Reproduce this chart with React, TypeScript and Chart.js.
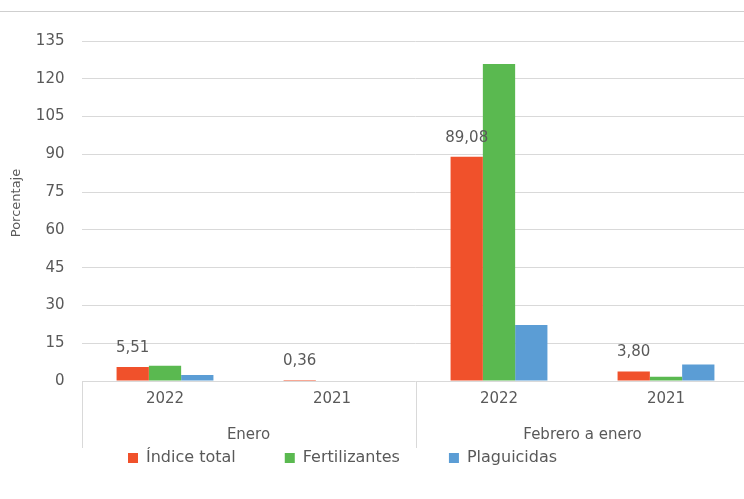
import React, { useEffect, useRef } from "react";
import { Chart, registerables } from "chart.js";

Chart.register(...registerables);

const yearLabels = ["2022", "2021", "2022", "2021"];
const groupLabels = ["Enero", "Febrero a enero"];
const seriesNames = ["Índice total", "Fertilizantes", "Plaguicidas"];
const indiceTotal = [5.51, 0.36, 89.08, 3.8];
const fertilizantes = [6.1, 0, 125.9, 1.7];
const plaguicidas = [2.4, 0, 22.2, 6.6];
const yTicksMax = 135;
const yTicksStep = 15;
const yTitle = "Porcentaje";

const COLORS = ["#F0512B", "#5AB950", "#5B9DD5"];
const TEXT = "#595959";
const GRID = "#d9d9d9";
const FONT = "'DejaVu Sans', sans-serif";

const fmt = (v: number) => v.toFixed(2).replace(".", ",");

const customPlugin = {
  id: "customDecor",
  afterLayout(chart: any) {
    const lg = chart.legend;
    if (lg) {
      lg.left += 79;
      lg.right += 79;
      lg.top -= 10;
      lg.bottom -= 10;
    }
  },
  beforeDraw(chart: any) {
    const { ctx, width } = chart;
    ctx.save();
    ctx.strokeStyle = "#cfcfcf";
    ctx.lineWidth = 1;
    ctx.beginPath();
    ctx.moveTo(0, 11.5);
    ctx.lineTo(width, 11.5);
    ctx.stroke();
    ctx.restore();
  },
  afterDatasetDraw(chart: any, args: any) {
    if (args.index !== 0) return;
    const { ctx } = chart;
    ctx.save();
    ctx.fillStyle = TEXT;
    ctx.font = `15px ${FONT}`;
    ctx.textAlign = "center";
    ctx.textBaseline = "middle";
    args.meta.data.forEach((bar: any, i: number) => {
      ctx.fillText(fmt(indiceTotal[i]), bar.x, bar.y - 19);
    });
    ctx.restore();
  },
  afterDraw(chart: any) {
    const { ctx, chartArea } = chart;
    const x = chart.scales.x;
    const bottom = chartArea.bottom;
    const bounds = [
      x.left,
      (x.getPixelForValue(1) + x.getPixelForValue(2)) / 2,
      x.right,
    ];
    ctx.save();
    ctx.strokeStyle = GRID;
    ctx.lineWidth = 1;
    bounds.forEach((b) => {
      const px = Math.round(b) + 0.5;
      ctx.beginPath();
      ctx.moveTo(px, bottom);
      ctx.lineTo(px, bottom + 67);
      ctx.stroke();
    });
    ctx.fillStyle = TEXT;
    ctx.font = `15px ${FONT}`;
    ctx.textAlign = "center";
    ctx.textBaseline = "middle";
    groupLabels.forEach((g, i) => {
      const c = (x.getPixelForValue(2 * i) + x.getPixelForValue(2 * i + 1)) / 2;
      ctx.fillText(g, c, 435);
    });
    ctx.font = `13px ${FONT}`;
    ctx.translate(17, 203);
    ctx.rotate(-Math.PI / 2);
    ctx.fillText(yTitle, 0, 0);
    ctx.restore();
  },
};

export default function App() {
  const ref = useRef<HTMLCanvasElement | null>(null);
  useEffect(() => {
    if (!ref.current) return;
    const seriesData = [indiceTotal, fertilizantes, plaguicidas];
    const chart = new Chart(ref.current, {
      type: "bar",
      data: {
        labels: yearLabels,
        datasets: seriesNames.map((name, i) => ({
          label: name,
          data: seriesData[i],
          backgroundColor: COLORS[i],
          borderWidth: 0,
          categoryPercentage: 0.58,
          barPercentage: 1,
        })),
      },
      options: {
        responsive: false,
        maintainAspectRatio: false,
        animation: false,
        devicePixelRatio: 1,
        layout: { padding: { left: 0, right: 10.5, top: 41, bottom: 13 } },
        plugins: {
          tooltip: { enabled: false },
          legend: {
            position: "bottom",
            align: "start",
            labels: {
              boxWidth: 10,
              boxHeight: 10,
              padding: 49,
              color: TEXT,
              font: { family: FONT, size: 16 },
            },
          },
        },
        scales: {
          x: {
            grid: { display: false, drawTicks: false },
            border: { display: false },
            ticks: {
              color: TEXT,
              font: { family: FONT, size: 15 },
              padding: 9,
              maxRotation: 0,
              autoSkip: false,
            },
            afterFit: (scale: any) => {
              scale.height = 30;
            },
          },
          y: {
            min: 0,
            max: yTicksMax,
            grid: { color: GRID, drawTicks: false },
            border: { display: false },
            ticks: {
              stepSize: yTicksStep,
              color: TEXT,
              font: { family: FONT, size: 15 },
              padding: 17,
            },
            afterFit: (scale: any) => {
              scale.width = 81.5;
            },
          },
        },
      },
      plugins: [customPlugin],
    });
    return () => chart.destroy();
  }, []);
  return (
    <div
      style={{
        position: "fixed",
        left: 0,
        top: 0,
        width: 744,
        height: 499,
        overflow: "hidden",
        background: "#fff",
      }}
    >
      <canvas ref={ref} width={760} height={499} style={{ width: 760, height: 499, display: "block" }} />
    </div>
  );
}
